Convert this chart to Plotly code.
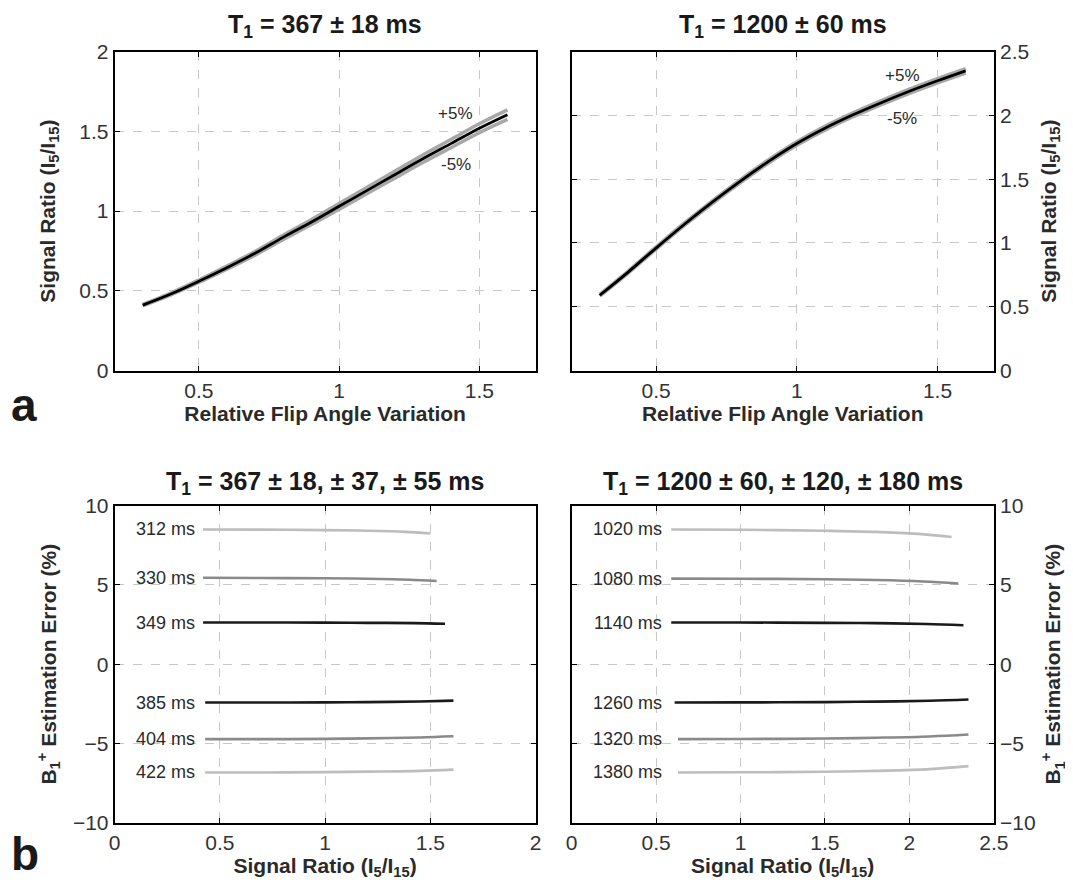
import plotly.graph_objects as go

# ---------------- data ----------------
flip = [0.3, 0.4, 0.5, 0.6, 0.7, 0.8, 0.9, 1.0, 1.1, 1.2, 1.3, 1.4, 1.5, 1.6]
ratio_367 = [0.41, 0.48, 0.56, 0.645, 0.735, 0.835, 0.93, 1.03, 1.13, 1.23, 1.33, 1.425, 1.52, 1.605]
ratio_367_hi = [0.415, 0.486, 0.568, 0.655, 0.747, 0.849, 0.946, 1.048, 1.15, 1.252, 1.354, 1.451, 1.548, 1.635]
ratio_367_lo = [0.405, 0.474, 0.552, 0.635, 0.723, 0.821, 0.914, 1.012, 1.11, 1.208, 1.306, 1.399, 1.492, 1.575]

ratio_1200 = [0.59, 0.77, 0.96, 1.145, 1.32, 1.485, 1.64, 1.78, 1.9, 2.005, 2.1, 2.19, 2.272, 2.35]
ratio_1200_hi = [0.597, 0.778, 0.969, 1.155, 1.331, 1.497, 1.653, 1.794, 1.915, 2.02, 2.116, 2.206, 2.289, 2.367]
ratio_1200_lo = [0.583, 0.762, 0.951, 1.135, 1.309, 1.473, 1.627, 1.766, 1.885, 1.99, 2.084, 2.174, 2.255, 2.333]

# bottom-left: T1 = 367 family
t1_short_labels = ["312 ms", "330 ms", "349 ms", "385 ms", "404 ms", "422 ms"]
sr_short_x = [
    [0.42, 0.7, 1.0, 1.2, 1.38, 1.50],
    [0.42, 0.7, 1.0, 1.2, 1.40, 1.53],
    [0.42, 0.7, 1.0, 1.2, 1.42, 1.57],
    [0.43, 0.7, 1.0, 1.2, 1.45, 1.61],
    [0.43, 0.7, 1.0, 1.2, 1.45, 1.61],
    [0.43, 0.7, 1.0, 1.2, 1.45, 1.61],
]
err_short = [
    [8.50, 8.49, 8.46, 8.42, 8.35, 8.25],
    [5.45, 5.44, 5.42, 5.39, 5.33, 5.25],
    [2.63, 2.63, 2.62, 2.61, 2.59, 2.55],
    [-2.42, -2.42, -2.41, -2.39, -2.35, -2.30],
    [-4.73, -4.73, -4.71, -4.68, -4.62, -4.55],
    [-6.83, -6.83, -6.81, -6.78, -6.73, -6.65],
]

# bottom-right: T1 = 1200 family
t1_long_labels = ["1020 ms", "1080 ms", "1140 ms", "1260 ms", "1320 ms", "1380 ms"]
sr_long_x = [
    [0.59, 1.0, 1.5, 1.8, 2.05, 2.25],
    [0.59, 1.0, 1.5, 1.8, 2.08, 2.29],
    [0.59, 1.0, 1.5, 1.8, 2.10, 2.32],
    [0.61, 1.0, 1.5, 1.8, 2.12, 2.35],
    [0.63, 1.0, 1.5, 1.8, 2.12, 2.35],
    [0.63, 1.0, 1.5, 1.8, 2.12, 2.35],
]
err_long = [
    [8.50, 8.48, 8.42, 8.35, 8.22, 8.03],
    [5.40, 5.39, 5.36, 5.31, 5.22, 5.09],
    [2.63, 2.63, 2.61, 2.59, 2.54, 2.46],
    [-2.42, -2.41, -2.39, -2.36, -2.31, -2.23],
    [-4.73, -4.72, -4.69, -4.64, -4.56, -4.44],
    [-6.83, -6.82, -6.79, -6.73, -6.62, -6.43],
]

line_colors = ["#bdbdbd", "#8a8a8a", "#1a1a1a", "#1a1a1a", "#8a8a8a", "#bdbdbd"]

FONT = "Liberation Sans, Arial, Helvetica, sans-serif"
TXT = "#2a2a2a"

W, H, OFF = 1073, 888, 8  # page body margin offsets the plot by 8px


def px(x):
    return (x - OFF) / W


def py(y):
    return 1 - (y - OFF) / H


fig = go.Figure()

# top-left
for yv in (ratio_367_hi, ratio_367_lo):
    fig.add_trace(go.Scatter(x=flip, y=yv, mode="lines", line=dict(color="#a8a8a8", width=3.5, shape="spline"),
                             xaxis="x", yaxis="y", showlegend=False, hoverinfo="skip"))
fig.add_trace(go.Scatter(x=flip, y=ratio_367, mode="lines", line=dict(color="black", width=2.8, shape="spline"),
                         xaxis="x", yaxis="y", showlegend=False))
# top-right
for yv in (ratio_1200_hi, ratio_1200_lo):
    fig.add_trace(go.Scatter(x=flip, y=yv, mode="lines", line=dict(color="#a8a8a8", width=3.5, shape="spline"),
                             xaxis="x2", yaxis="y2", showlegend=False, hoverinfo="skip"))
fig.add_trace(go.Scatter(x=flip, y=ratio_1200, mode="lines", line=dict(color="black", width=2.8, shape="spline"),
                         xaxis="x2", yaxis="y2", showlegend=False))
# bottom-left
for xs, ys, c, lab in zip(sr_short_x, err_short, line_colors, t1_short_labels):
    fig.add_trace(go.Scatter(x=xs, y=ys, mode="lines", line=dict(color=c, width=2.6, shape="spline"),
                             xaxis="x3", yaxis="y3", showlegend=False, name=lab))
    fig.add_annotation(x=0.39, y=ys[0], xref="x3", yref="y3", text=lab, showarrow=False,
                       xanchor="right", yanchor="middle", font=dict(family=FONT, size=18, color=TXT))
# bottom-right
for xs, ys, c, lab in zip(sr_long_x, err_long, line_colors, t1_long_labels):
    fig.add_trace(go.Scatter(x=xs, y=ys, mode="lines", line=dict(color=c, width=2.6, shape="spline"),
                             xaxis="x4", yaxis="y4", showlegend=False, name=lab))
    fig.add_annotation(x=0.55, y=ys[0], xref="x4", yref="y4", text=lab, showarrow=False,
                       xanchor="right", yanchor="middle", font=dict(family=FONT, size=18, color=TXT))

# +/-5% labels
for xr, yr, xx, yp, ym in (("x", "y", 1.415, 1.61, 1.29), ("x2", "y2", 1.374, 2.31, 1.98)):
    fig.add_annotation(x=xx, y=yp, xref=xr, yref=yr, text="+5%", showarrow=False,
                       font=dict(family=FONT, size=17, color=TXT))
    fig.add_annotation(x=xx, y=ym, xref=xr, yref=yr, text="-5%", showarrow=False,
                       font=dict(family=FONT, size=17, color=TXT))

axis_common = dict(showline=True, linecolor="black", linewidth=2, mirror="ticks", ticks="inside",
                   ticklen=5, tickcolor="black", showgrid=True, gridcolor="#c8c8c8", griddash="dash",
                   gridwidth=1, zeroline=False, automargin=False,
                   tickfont=dict(family=FONT, size=21, color="#333333"))
title_font = dict(family=FONT, size=21, color=TXT, weight="bold")

dl = [px(114.7), px(535.5)]
dr = [px(571.6), px(993.8)]
dt = [py(370.5), py(51.7)]
db = [py(822.7), py(505.7)]

sr_title = "Signal Ratio (I<sub>5</sub>/I<sub>15</sub>)"
err_title = "B<sub>1</sub><sup>+</sup> Estimation Error (%)"

fig.update_layout(
    width=W, height=H, margin=dict(l=0, r=0, t=0, b=0),
    paper_bgcolor="white", plot_bgcolor="white",
    xaxis=dict(axis_common, domain=dl, range=[0.2, 1.7], tickvals=[0.5, 1, 1.5], ticktext=["0.5", "1", "1.5"],
               anchor="y", title=dict(text="Relative Flip Angle Variation", font=title_font, standoff=2)),
    yaxis=dict(axis_common, domain=dt, range=[0, 2], tickvals=[0, 0.5, 1, 1.5, 2],
               ticktext=["0", "0.5", "1", "1.5", "2"], anchor="x",
               title=dict(text=sr_title, font=title_font, standoff=18)),
    xaxis2=dict(axis_common, domain=dr, range=[0.2, 1.7], tickvals=[0.5, 1, 1.5], ticktext=["0.5", "1", "1.5"],
                anchor="y2", title=dict(text="Relative Flip Angle Variation", font=title_font, standoff=2)),
    yaxis2=dict(axis_common, domain=dt, range=[0, 2.5], tickvals=[0, 0.5, 1, 1.5, 2, 2.5],
                ticktext=["0", "0.5", "1", "1.5", "2", "2.5"], anchor="x2", side="right",
                title=dict(text=sr_title, font=title_font, standoff=13)),
    xaxis3=dict(axis_common, domain=dl, range=[0, 2], tickvals=[0, 0.5, 1, 1.5, 2],
                ticktext=["0", "0.5", "1", "1.5", "2"], anchor="y3",
                title=dict(text=sr_title, font=title_font, standoff=2)),
    yaxis3=dict(axis_common, domain=db, range=[-10, 10], tickvals=[-10, -5, 0, 5, 10],
                ticktext=["\u221210", "\u22125", "0", "5", "10"], anchor="x3",
                title=dict(text=err_title, font=title_font, standoff=11)),
    xaxis4=dict(axis_common, domain=dr, range=[0, 2.5], tickvals=[0, 0.5, 1, 1.5, 2, 2.5],
                ticktext=["0", "0.5", "1", "1.5", "2", "2.5"], anchor="y4",
                title=dict(text=sr_title, font=title_font, standoff=2)),
    yaxis4=dict(axis_common, domain=db, range=[-10, 10], tickvals=[-10, -5, 0, 5, 10],
                ticktext=["\u221210", "\u22125", "0", "5", "10"], anchor="x4", side="right",
                title=dict(text=err_title, font=title_font, standoff=11)),
)

# panel titles
titles = [
    ((dl[0] + dl[1]) / 2, py(25.7), "T<sub>1</sub> = 367 ± 18 ms"),
    ((dr[0] + dr[1]) / 2, py(25.7), "T<sub>1</sub> = 1200 ± 60 ms"),
    ((dl[0] + dl[1]) / 2, py(483), "T<sub>1</sub> = 367 ± 18, ± 37, ± 55 ms"),
    ((dr[0] + dr[1]) / 2, py(483), "T<sub>1</sub> = 1200 ± 60, ± 120, ± 180 ms"),
]
for x, y, t in titles:
    fig.add_annotation(x=x, y=y, xref="paper", yref="paper", text=t, showarrow=False,
                       xanchor="center", yanchor="middle",
                       font=dict(family=FONT, size=25, color="#1a1a1a", weight="bold"))

# panel letters
fig.add_annotation(x=px(9), y=1 - 425 / H, xref="paper", yref="paper", text="a", showarrow=False,
                   xanchor="left", yanchor="bottom", font=dict(family=FONT, size=46, color="#1a1a1a", weight="bold"))
fig.add_annotation(x=px(9), y=1 - 874 / H, xref="paper", yref="paper", text="b", showarrow=False,
                   xanchor="left", yanchor="bottom", font=dict(family=FONT, size=46, color="#1a1a1a", weight="bold"))

fig.write_html("out.html")
